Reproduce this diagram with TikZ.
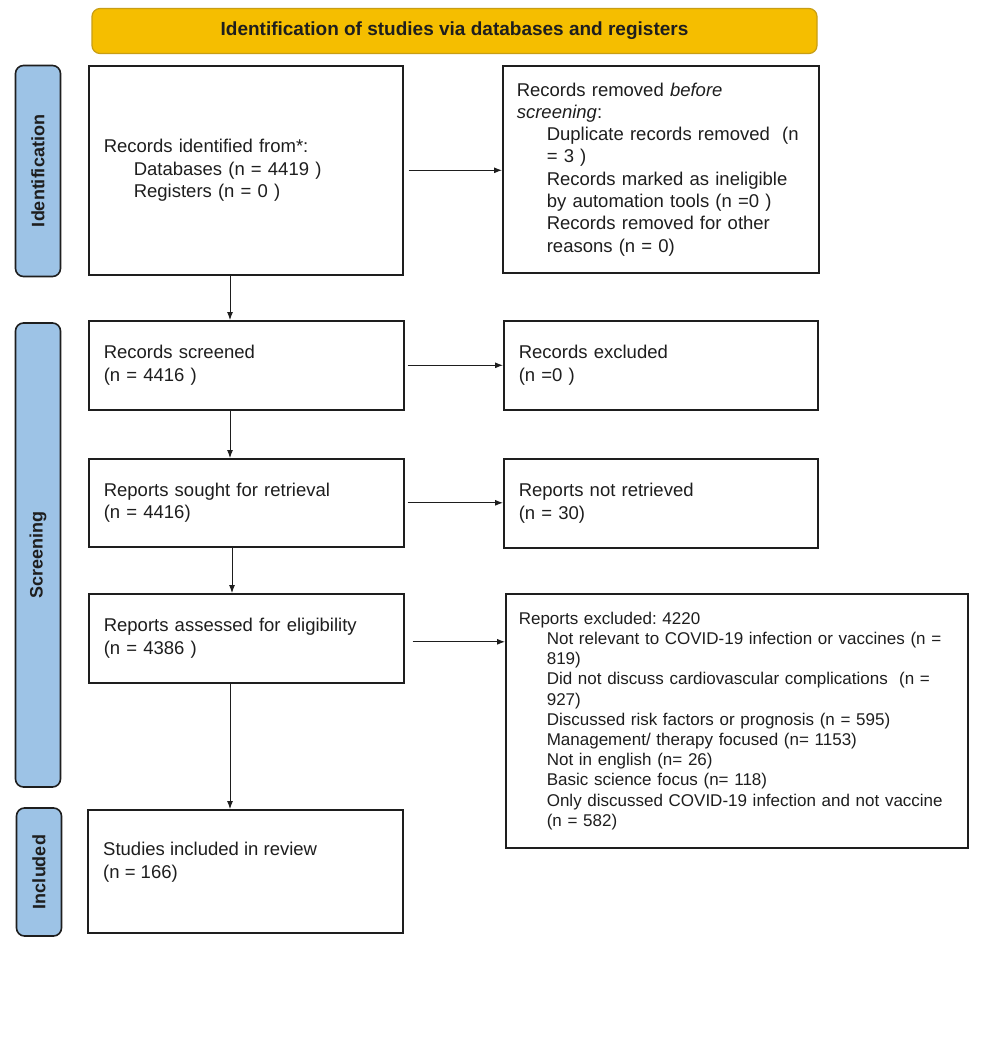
\documentclass[tikz,border=0pt]{standalone}
\usepackage{fontspec}
\setmainfont{Liberation Sans}
\usetikzlibrary{arrows.meta,calc}
\definecolor{gold}{RGB}{245,190,0}
\definecolor{golddark}{RGB}{200,158,20}
\definecolor{sideblue}{RGB}{157,195,230}
\definecolor{ink}{RGB}{30,30,30}
\frenchspacing
\begin{document}
\begin{tikzpicture}[x=1pt,y=-1pt,
  box/.style={draw=ink, line width=1.6pt, fill=white, anchor=north west,
    inner xsep=15pt, inner ysep=0pt, align=left, text=ink,
    font=\fontsize{18.5}{22.3}\selectfont},
  side/.style={draw=ink, line width=1.6pt, fill=sideblue, rounded corners=8pt,
    rotate=90, inner sep=0pt, minimum height=45pt, text=ink,
    font=\bfseries\fontsize{18}{20}\selectfont},
  arr/.style={draw=ink, line width=0.9pt, -{Latex[length=8pt,width=6pt]}}]
\useasboundingbox (0,0) rectangle (986,1063);
\fill[white] (0,0) rectangle (986,1063);
\coordinate (vx) at (230,0);
\coordinate (vx2) at (232,0);
% banner
\node[draw=golddark, fill=gold, rounded corners=8pt, line width=1.2pt,
  minimum width=725pt, minimum height=45pt, inner sep=0pt, text=ink,
  font=\bfseries\fontsize{19}{22}\selectfont] (ban) at (454.5,31)
  {\raisebox{-2pt}{Identification of studies via databases and registers}};
% side labels
\node[side, minimum width=211pt] (lid) at (38,171) {Identification};
\node[side, minimum width=464pt] (lsc) at (38,555) {Screening};
\node[side, minimum width=128pt] (lin) at (39,872) {Included};
% boxes
\node[box, text width=284pt, minimum height=209pt] (id) at (88,65)
  {Records identified from*:\\\hspace*{30pt}Databases (n = 4419 )\\\hspace*{30pt}Registers (n = 0 )};
\node[box, inner xsep=14pt, text width=288pt, minimum height=207pt] (rem) at (502,65)
  {Records removed \textit{before}\\\textit{screening}:\\
   \hspace*{30pt}Duplicate records removed~ (n\\
   \hspace*{30pt}= 3 )\\
   \hspace*{30pt}Records marked as ineligible\\
   \hspace*{30pt}by automation tools (n =0 )\\
   \hspace*{30pt}Records removed for other\\
   \hspace*{30pt}reasons (n = 0)};
\node[box, text width=285pt, minimum height=89pt] (scr) at (88,320)
  {Records screened\\(n = 4416 )};
\node[box, text width=284pt, minimum height=89pt] (exc) at (503,320)
  {Records excluded\\(n =0 )};
\node[box, text width=285pt, minimum height=88pt] (srt) at (88,458)
  {Reports sought for retrieval\\(n = 4416)};
\node[box, text width=284pt, minimum height=89pt] (nret) at (503,458)
  {Reports not retrieved\\(n = 30)};
\node[box, text width=285pt, minimum height=89pt] (ass) at (88,593)
  {Reports assessed for eligibility\\(n = 4386 )};
\node[box, inner xsep=13pt, text width=436pt, minimum height=254pt,
  font=\fontsize{17}{20.2}\selectfont] (rex) at (505,593)
  {Reports excluded: 4220\\
   \hspace*{28pt}Not relevant to COVID-19 infection or vaccines (n =\\
   \hspace*{28pt}819)\\
   \hspace*{28pt}Did not discuss cardiovascular complications~ (n =\\
   \hspace*{28pt}927)\\
   \hspace*{28pt}Discussed risk factors or prognosis (n = 595)\\
   \hspace*{28pt}Management/ therapy focused (n= 1153)\\
   \hspace*{28pt}Not in english (n= 26)\\
   \hspace*{28pt}Basic science focus (n= 118)\\
   \hspace*{28pt}Only discussed COVID-19 infection and not vaccine\\
   \hspace*{28pt}(n = 582)};
\node[box, minimum width=315pt, minimum height=123pt] (inc) at (87,809) {};
\node[anchor=west, align=left, inner sep=0pt, text=ink,
  font=\fontsize{18.5}{22.3}\selectfont] (inctext) at ($(inc.west)+(16,-9)$)
  {Studies included in review\\(n = 166)};
% connectors
\coordinate (asout) at ([yshift=-3.5pt]ass.east);
\draw[arr] (id.south -| vx) -- (scr.north -| vx);
\draw[arr] (scr.south -| vx) -- (srt.north -| vx);
\draw[arr] (srt.south -| vx2) -- (ass.north -| vx2);
\draw[arr] (ass.south -| vx) -- (inc.north -| vx);
\draw[arr] ([xshift=5pt]id.east) -- (rem.west |- id.east);
\draw[arr] ([xshift=3pt]scr.east) -- (exc.west);
\draw[arr] ([xshift=3pt]srt.east) -- (nret.west |- srt.east);
\draw[arr] ([xshift=8pt]asout) -- (rex.west |- asout);
\end{tikzpicture}
\end{document}
